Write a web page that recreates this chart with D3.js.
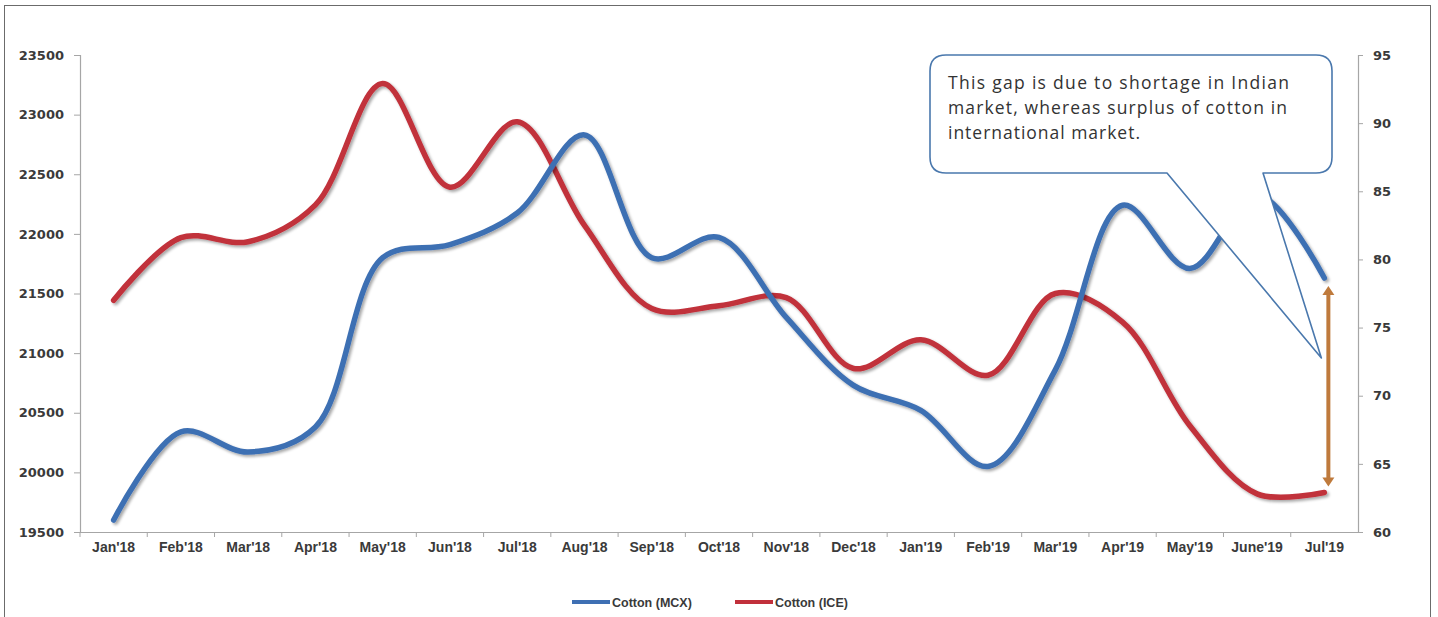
<!DOCTYPE html>
<html>
<head>
<meta charset="utf-8">
<script src="https://cdn.jsdelivr.net/npm/d3@7"></script>
<style>
  html, body { margin: 0; padding: 0; background: #fff; }
  svg { display: block; }
</style>
</head>
<body>
<svg id="chart" width="1438" height="617"></svg>
<script>
// Monthly cotton prices: MCX (Rs/bale, left axis) and ICE (US cents/lb, right axis)
const months = ["Jan'18","Feb'18","Mar'18","Apr'18","May'18","Jun'18","Jul'18","Aug'18","Sep'18","Oct'18",
                "Nov'18","Dec'18","Jan'19","Feb'19","Mar'19","Apr'19","May'19","June'19","Jul'19"];
const mcxValues = [19600, 20340, 20170, 20380, 21800, 21910, 22175, 22830, 21800, 21970,
                   21300, 20730, 20520, 20050, 20860, 22240, 21710, 22330, 21630];
const iceValues = [77.0, 81.6, 81.3, 84.0, 92.9, 85.3, 90.1, 82.5, 76.4, 76.6,
                   77.2, 72.0, 74.1, 71.5, 77.5, 75.4, 67.8, 62.8, 62.9];
const leftTicks = [19500, 20000, 20500, 21000, 21500, 22000, 22500, 23000, 23500];
const rightTicks = [60, 65, 70, 75, 80, 85, 90, 95];
const seriesNames = ["Cotton (MCX)", "Cotton (ICE)"];
const calloutLines = ["This gap is due to shortage in Indian",
                      "market, whereas surplus of cotton  in",
                      "international market."];

const svg = d3.select("#chart");
const plot = { left: 80, right: 1358, top: 55, bottom: 532 };

const blue = "#3e6fb3", red = "#c1303b", axisGrey = "#a6a6a6", textCol = "#3a3a3a";

// outer frame
svg.append("rect").attr("x", 4.5).attr("y", 5.5).attr("width", 1426).attr("height", 620)
  .attr("fill", "none").attr("stroke", "#6b6b6b").attr("stroke-width", 1);

const defs = svg.append("defs");
const shadow = defs.append("filter").attr("id", "soft").attr("x", "-5%").attr("y", "-5%")
  .attr("width", "110%").attr("height", "120%");
shadow.append("feGaussianBlur").attr("in", "SourceAlpha").attr("stdDeviation", 1.6).attr("result", "b");
shadow.append("feOffset").attr("in", "b").attr("dx", 1.5).attr("dy", 2).attr("result", "o");
shadow.append("feComponentTransfer").attr("in", "o").attr("result", "s")
  .append("feFuncA").attr("type", "linear").attr("slope", 0.35);
const merge = shadow.append("feMerge");
merge.append("feMergeNode").attr("in", "s");
merge.append("feMergeNode").attr("in", "SourceGraphic");

const x = d3.scaleBand().domain(months).range([plot.left, plot.right]).padding(0);
const cx = d => x(d) + x.bandwidth() / 2;
const yL = d3.scaleLinear().domain([19500, 23500]).range([plot.bottom, plot.top]);
const yR = d3.scaleLinear().domain([60, 95]).range([plot.bottom, plot.top]);

// left axis
const leftAxis = svg.append("g").attr("transform", `translate(${plot.left},0)`)
  .call(d3.axisLeft(yL).tickValues(leftTicks).tickSize(6).tickPadding(10).tickFormat(d3.format("d")));
// right axis
const rightAxis = svg.append("g").attr("transform", `translate(${plot.right},0)`)
  .call(d3.axisRight(yR).tickValues(rightTicks).tickSize(5).tickPadding(10));
// bottom axis: ticks at category boundaries
const bottomAxis = svg.append("g").attr("transform", `translate(0,${plot.bottom})`)
  .call(d3.axisBottom(x).tickSize(0).tickPadding(12));
bottomAxis.selectAll(".tick").append("line")
  .attr("x1", -x.bandwidth() / 2).attr("x2", -x.bandwidth() / 2)
  .attr("y1", 0).attr("y2", 5).attr("stroke", axisGrey);

[leftAxis, rightAxis, bottomAxis].forEach(g => {
  g.select(".domain").attr("stroke", axisGrey).attr("stroke-width", 1.2);
  g.selectAll(".tick line").attr("stroke", axisGrey);
  g.selectAll("text").attr("fill", textCol).attr("font-weight", "bold");
});
leftAxis.selectAll("text").attr("font-family", "DejaVu Sans").attr("font-size", 13);
rightAxis.selectAll("text").attr("font-family", "DejaVu Sans").attr("font-size", 13);
bottomAxis.selectAll("text").attr("font-family", "Liberation Sans").attr("font-size", 14)
  .attr("dy", "0.55em");

// series lines
const lineL = d3.line().x((d, i) => cx(months[i])).y(d => yL(d)).curve(d3.curveCatmullRom.alpha(0.5));
const lineR = d3.line().x((d, i) => cx(months[i])).y(d => yR(d)).curve(d3.curveCatmullRom.alpha(0.5));

svg.append("path").datum(iceValues).attr("d", lineR)
  .attr("fill", "none").attr("stroke", red).attr("stroke-width", 5.5)
  .attr("stroke-linecap", "round").attr("filter", "url(#soft)");
svg.append("path").datum(mcxValues).attr("d", lineL)
  .attr("fill", "none").attr("stroke", blue).attr("stroke-width", 5.5)
  .attr("stroke-linecap", "round").attr("filter", "url(#soft)");

// gap arrow between the two series at the last month
const last = months.length - 1;
const ax = cx(months[last]) + 4;
const yTop = yL(mcxValues[last]) + 8;
const yBot = yR(iceValues[last]) - 6;
const arrowCol = "#bf7a3c";
svg.append("line").attr("x1", ax).attr("x2", ax).attr("y1", yTop + 6).attr("y2", yBot - 6)
  .attr("stroke", arrowCol).attr("stroke-width", 4);
svg.append("path").attr("d", `M${ax},${yTop} L${ax - 6},${yTop + 9} L${ax + 6},${yTop + 9} Z`).attr("fill", arrowCol);
svg.append("path").attr("d", `M${ax},${yBot} L${ax - 6},${yBot - 9} L${ax + 6},${yBot - 9} Z`).attr("fill", arrowCol);

// callout box with pointer towards the gap
const bx0 = 930, by0 = 55, bx1 = 1332, by1 = 173, r = 16;
const tail1 = 1167, tail2 = 1263;
const tip = [ax - 7, yL(mcxValues[last]) + 80];
const calloutPath = [
  `M${bx0 + r},${by0}`,
  `L${bx1 - r},${by0}`, `Q${bx1},${by0} ${bx1},${by0 + r}`,
  `L${bx1},${by1 - r}`, `Q${bx1},${by1} ${bx1 - r},${by1}`,
  `L${tail2},${by1}`, `L${tip[0]},${tip[1]}`, `L${tail1},${by1}`,
  `L${bx0 + r},${by1}`, `Q${bx0},${by1} ${bx0},${by1 - r}`,
  `L${bx0},${by0 + r}`, `Q${bx0},${by0} ${bx0 + r},${by0}`, "Z"
].join(" ");
svg.append("path").attr("d", calloutPath).attr("fill", "#fff")
  .attr("stroke", "#4a78ad").attr("stroke-width", 1.6).attr("stroke-linejoin", "round");
const lineWidths = [341, 339, 192];
svg.append("g").selectAll("text").data(calloutLines).join("text")
  .attr("x", 948).attr("y", (d, i) => 89 + i * 25)
  .attr("font-family", "Open Sans").attr("font-size", 17.5).attr("fill", "#333")
  .attr("textLength", (d, i) => lineWidths[i]).attr("lengthAdjust", "spacing")
  .text(d => d);

// legend
const legend = svg.append("g").attr("transform", "translate(0,602)");
const legendItems = [
  { name: seriesNames[0], color: blue, x: 572 },
  { name: seriesNames[1], color: red, x: 735 }
];
legendItems.forEach(it => {
  legend.append("line").attr("x1", it.x).attr("x2", it.x + 38).attr("y1", 0).attr("y2", 0)
    .attr("stroke", it.color).attr("stroke-width", 4);
  legend.append("text").attr("x", it.x + 40).attr("y", 0).attr("dy", "0.36em")
    .attr("font-family", "Liberation Sans").attr("font-weight", "bold").attr("font-size", 12.5)
    .attr("fill", textCol).text(it.name);
});
</script>
</body>
</html>
